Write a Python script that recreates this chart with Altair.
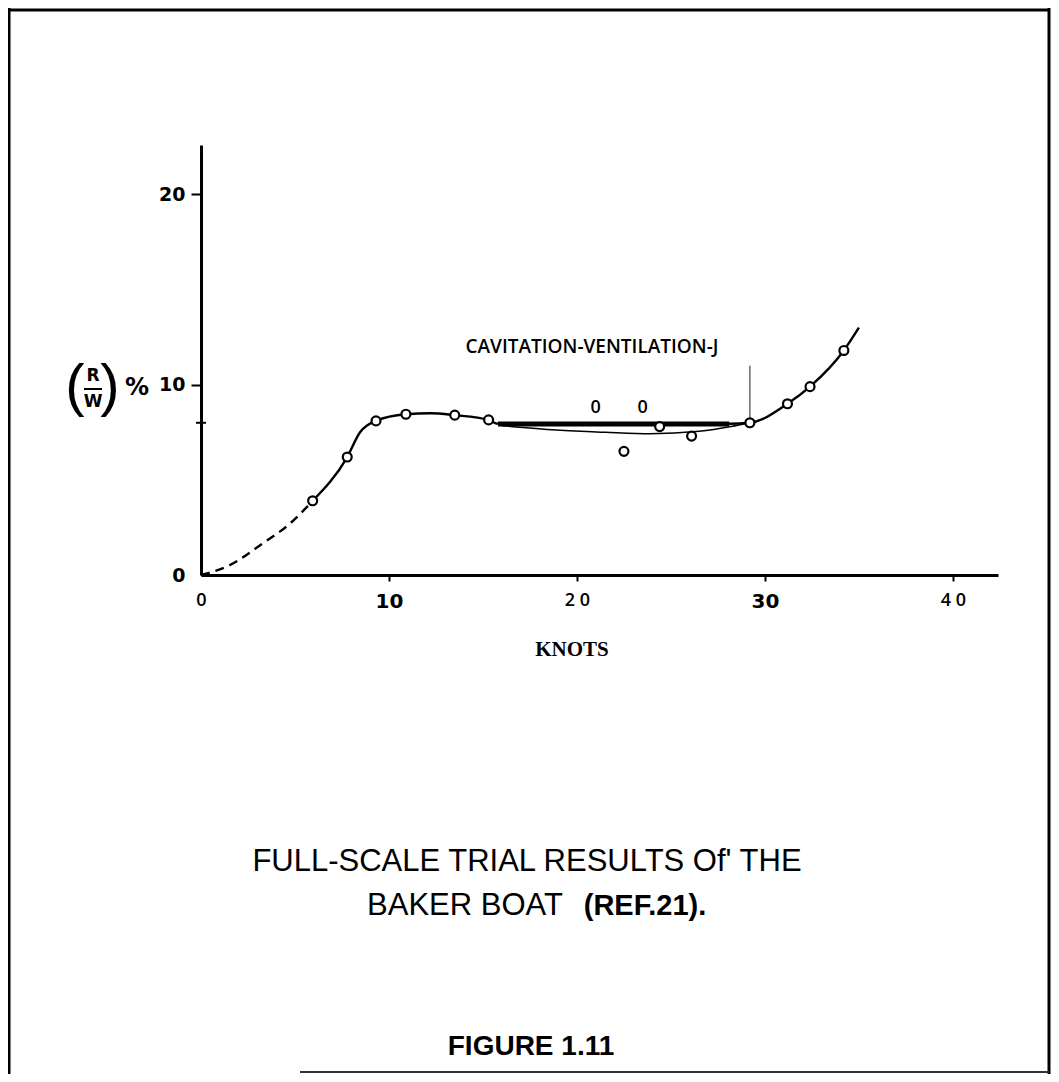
import altair as alt
import pandas as pd

# ---- data ----
circle_knots = [5.94, 7.78, 9.31, 10.9, 13.5, 15.3, 22.5, 24.4, 26.1, 29.2, 31.2, 32.4, 34.2]
circle_rw = [3.9, 6.2, 8.1, 8.45, 8.4, 8.15, 6.5, 7.8, 7.3, 8.0, 9.0, 9.9, 11.8]

dash_knots = [0.0, 1.37, 3.3, 4.73, 5.94]
dash_rw = [0.0, 0.44, 1.67, 2.7, 3.9]

solid_knots = [5.94, 7.78, 8.46, 9.31, 10.9, 12.2, 13.5, 15.3, 15.8, 28.1, 29.2, 31.2, 32.4, 34.2, 35.0]
solid_rw = [3.9, 6.2, 7.5, 8.1, 8.45, 8.5, 8.4, 8.15, 7.95, 7.95, 8.0, 9.0, 9.9, 11.8, 13.0]

lower_knots = [16.0, 18.9, 21.5, 23.9, 26.5, 28.2, 29.2]
lower_rw = [7.85, 7.62, 7.5, 7.42, 7.55, 7.8, 8.0]

thick_start, thick_end, thick_level = 15.8, 28.1, 7.93
vert_knots, vert_lo, vert_hi = 29.2, 8.0, 11.0

x_ticks = [0, 10, 20, 30, 40]
y_ticks = [0, 10, 20]

cav_text, cav_knots, cav_rw = "CAVITATION-VENTILATION-J", 20.8, 12.0
zero_text = ["0", "0"]
zero_knots = [21.0, 23.5]
zero_rw = [8.8, 8.8]

W, H = 797, 430
XD = [0, 42.4]
YD = [0, 22.6]

xs = alt.Scale(domain=XD, nice=False, zero=False)
ys = alt.Scale(domain=YD, nice=False, zero=False)

circles = pd.DataFrame({"knots": circle_knots, "rw": circle_rw})
dashed = pd.DataFrame({"knots": dash_knots, "rw": dash_rw})
solid = pd.DataFrame({"knots": solid_knots, "rw": solid_rw})
lower = pd.DataFrame({"knots": lower_knots, "rw": lower_rw})
thick = pd.DataFrame({"a": [thick_start], "b": [thick_end], "rw": [thick_level]})
vert = pd.DataFrame({"knots": [vert_knots], "lo": [vert_lo], "hi": [vert_hi]})
cav = pd.DataFrame({"t": [cav_text], "knots": [cav_knots], "rw": [cav_rw]})
zeros = pd.DataFrame({"t": zero_text, "knots": zero_knots, "rw": zero_rw})
one = pd.DataFrame({"a": [0]})

big = "datum.value === 10 || datum.value === 30"
x_axis = alt.Axis(
    values=x_ticks, title=None, grid=False,
    domainWidth=3, domainColor="black",
    tickSize=6, tickWidth=2, tickColor="black",
    tickOpacity={"condition": {"test": "datum.value === 0", "value": 0}, "value": 1},
    labelColor="black",
    labelFont={"condition": {"test": big, "value": "DejaVu Sans"}, "value": "Open Sans"},
    labelFontSize={"condition": {"test": big, "value": 20}, "value": 18},
    labelFontWeight={"condition": {"test": big, "value": "bold"}, "value": 600},
    labelExpr="datum.value === 20 ? '2 0' : datum.value === 40 ? '4 0' : datum.label",
    labelPadding=10, labelFlush=False,
)
y_axis = alt.Axis(
    values=y_ticks, title=None, grid=False,
    domainWidth=3, domainColor="black",
    tickSize=10, tickWidth=2, tickColor="black",
    tickOpacity={"condition": {"test": "datum.value === 0", "value": 0}, "value": 1},
    labelFont="DejaVu Sans", labelFontWeight="bold", labelFontSize=19, labelColor="black",
    labelPadding=6, labelFlush=False,
)

dash_line = alt.Chart(dashed).mark_line(color="black", strokeWidth=2.4, strokeDash=[9, 6], interpolate="monotone").encode(
    x=alt.X("knots:Q", scale=xs, axis=x_axis), y=alt.Y("rw:Q", scale=ys, axis=y_axis))
solid_line = alt.Chart(solid).mark_line(color="black", strokeWidth=2.4, interpolate="monotone").encode(
    x=alt.X("knots:Q", scale=xs), y=alt.Y("rw:Q", scale=ys))
lower_line = alt.Chart(lower).mark_line(color="black", strokeWidth=1.5, interpolate="monotone").encode(
    x=alt.X("knots:Q", scale=xs), y=alt.Y("rw:Q", scale=ys))
thick_rule = alt.Chart(thick).mark_rule(color="black", strokeWidth=5).encode(
    x=alt.X("a:Q", scale=xs), x2="b:Q", y=alt.Y("rw:Q", scale=ys))
vert_rule = alt.Chart(vert).mark_rule(color="#444444", strokeWidth=1.2).encode(
    x=alt.X("knots:Q", scale=xs), y=alt.Y("lo:Q", scale=ys), y2="hi:Q")
pts = alt.Chart(circles).mark_point(shape="circle", filled=False, fill="white", fillOpacity=1,
                                    color="black", strokeWidth=2.2, size=80, opacity=1).encode(
    x=alt.X("knots:Q", scale=xs), y=alt.Y("rw:Q", scale=ys))

cav_mark = alt.Chart(cav).mark_text(font="Open Sans", fontWeight=600, fontSize=19, color="black",
                                    align="center", baseline="middle").encode(
    x=alt.X("knots:Q", scale=xs), y=alt.Y("rw:Q", scale=ys), text="t:N")
zero_mark = alt.Chart(zeros).mark_text(font="Open Sans", fontWeight=600, fontSize=18, color="black",
                                       align="center", baseline="middle").encode(
    x=alt.X("knots:Q", scale=xs), y=alt.Y("rw:Q", scale=ys), text="t:N")

axis_mark = alt.Chart(one).mark_rule(color="black", strokeWidth=2).encode(
    x=alt.value(-5), x2=alt.value(5), y=alt.value(H - 8.0 * H / YD[1]))


def txt(s, x, y, size, font="Liberation Sans", weight="normal", align="center"):
    return alt.Chart(one).mark_text(text=s, font=font, fontSize=size, fontWeight=weight, color="black",
                                    align=align, baseline="middle").encode(x=alt.value(x), y=alt.value(y))


knots_title = txt("KNOTS", 371, 505, 21, font="Liberation Serif", weight="bold")

# y title (R/W) %
lp = txt("(", -126, 243, 58, font="Liberation Sans")
rp = txt(")", -91, 243, 58, font="Liberation Sans")
rr = txt("R", -108, 231, 17, font="DejaVu Sans", weight="bold")
ww = txt("W", -108, 257, 17, font="DejaVu Sans", weight="bold")
frac = alt.Chart(one).mark_rule(color="black", strokeWidth=2).encode(
    x=alt.value(-117), x2=alt.value(-99), y=alt.value(244))
pct = txt("%", -64, 243, 24, font="DejaVu Sans", weight="bold")

cap1 = txt("FULL-SCALE TRIAL RESULTS Of' THE", 326, 717, 31)
cap2a = txt("BAKER BOAT", 264, 761, 31)
cap2b = txt("(REF.21).", 444, 761, 29, weight="bold")
cap3 = txt("FIGURE 1.11", 330, 902, 28, weight="bold")

# page frame
fl = alt.Chart(one).mark_rule(color="black", strokeWidth=3).encode(x=alt.value(-192), y=alt.value(-137), y2=alt.value(929))
ft = alt.Chart(one).mark_rule(color="black", strokeWidth=3).encode(x=alt.value(-192), x2=alt.value(848), y=alt.value(-135))
fr = alt.Chart(one).mark_rule(color="black", strokeWidth=3).encode(x=alt.value(848), y=alt.value(-137), y2=alt.value(929))
fb = alt.Chart(one).mark_rule(color="#333333", strokeWidth=2).encode(x=alt.value(99), x2=alt.value(848), y=alt.value(927))

chart = alt.layer(
    dash_line, solid_line, lower_line, thick_rule, vert_rule, pts, cav_mark, zero_mark, axis_mark,
    knots_title, lp, rp, rr, ww, frac, pct, cap1, cap2a, cap2b, cap3, fl, ft, fr, fb,
).properties(
    width=W, height=H,
    padding={"left": 193, "top": 137, "right": 53, "bottom": 499},
    autosize=alt.AutoSizeParams(type="none"),
    background="white",
).configure_view(strokeWidth=0)

chart.save("out.html", embed_options={"renderer": "svg", "actions": False})
